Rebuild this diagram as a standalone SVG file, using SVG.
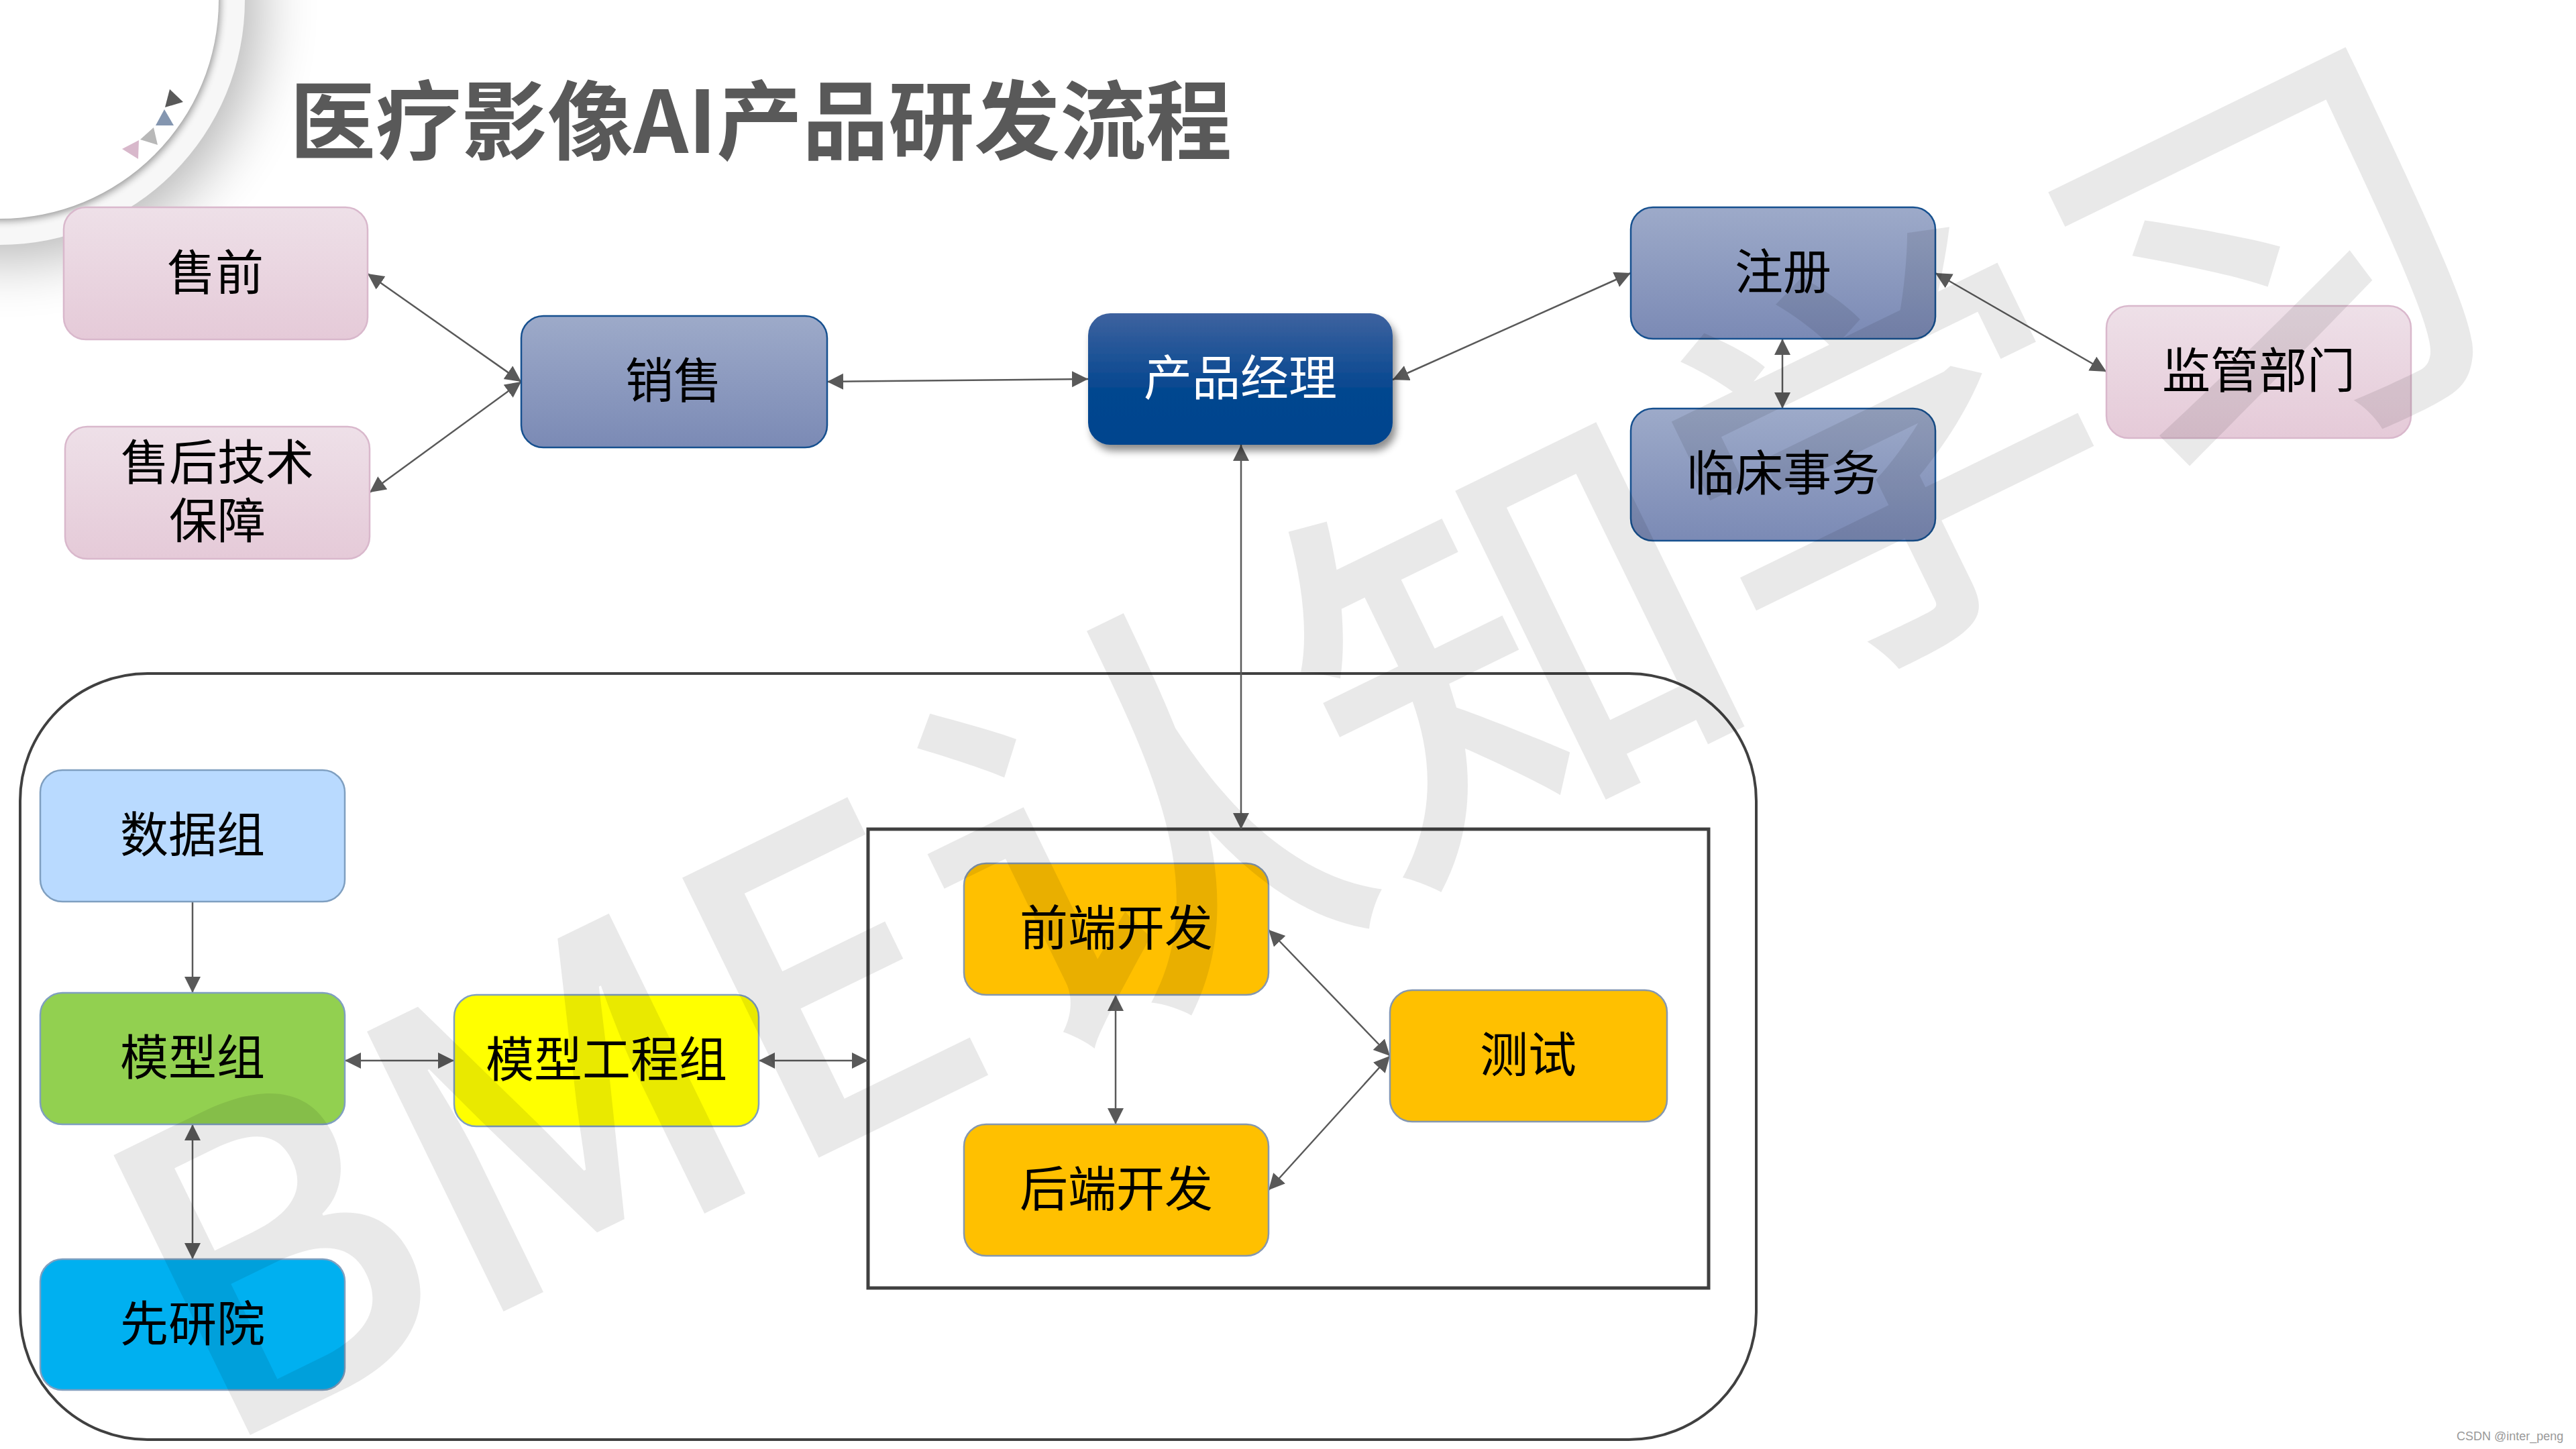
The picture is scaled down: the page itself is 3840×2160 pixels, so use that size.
<svg xmlns="http://www.w3.org/2000/svg" width="3840" height="2160" viewBox="0 0 3840 2160">
<style>
text{font-family:"Noto Sans CJK SC","Noto Sans",sans-serif}
.l{font-size:72px;fill:#000;text-anchor:middle}
.n{stroke-width:2.5}
.pink{fill:url(#gp);stroke:#d9b8cc}
.blue{fill:url(#gb);stroke:#16508f}
.org{fill:#ffc000;stroke:#8497b0}
.c{fill:none;stroke:#595959;stroke-width:2.5;marker-end:url(#a)}
.b{marker-start:url(#a)}
</style>
<defs>
<linearGradient id="gp" x1="0" y1="0" x2="0" y2="1"><stop offset="0" stop-color="#eee0e8"/><stop offset="1" stop-color="#e5cad8"/></linearGradient>
<linearGradient id="gb" x1="0" y1="0" x2="0" y2="1"><stop offset="0" stop-color="#9daac9"/><stop offset="1" stop-color="#7b8ab5"/></linearGradient>
<linearGradient id="gd" x1="0" y1="0" x2="0" y2="1"><stop offset="0" stop-color="#3e629f"/><stop offset=".6" stop-color="#03468f"/><stop offset="1" stop-color="#03448e"/></linearGradient>
<marker id="a" markerUnits="userSpaceOnUse" markerWidth="26" markerHeight="26" refX="24" refY="12" orient="auto-start-reverse"><path d="M0 0L24 12L0 24Z" fill="#595959"/></marker>
<filter id="s1" x="-30%" y="-30%" width="170%" height="170%"><feGaussianBlur stdDeviation="45"/></filter>
<filter id="s2" x="-10%" y="-10%" width="120%" height="120%"><feGaussianBlur stdDeviation="6"/></filter>
<filter id="s3" x="-10%" y="-10%" width="120%" height="130%"><feDropShadow dx="5" dy="9" stdDeviation="6" flood-color="#000" flood-opacity=".45"/></filter>
</defs>
<rect width="3840" height="2160" fill="#fff"/>
<g id="corner">
<circle cx="12" cy="12" r="372" fill="#000" opacity=".3" filter="url(#s1)"/>
<circle cx="0" cy="0" r="365" fill="#f7f7f7"/>
<circle cx="2" cy="3" r="326" fill="#000" opacity=".4" filter="url(#s2)"/>
<circle cx="0" cy="0" r="326" fill="#fff"/>
<polygon points="253,133 273,152 246,160" fill="#595959"/>
<polygon points="245,163 259,187 232,187" fill="#8496b0"/>
<polygon points="229,190 235,216 209,208" fill="#b8b8b8"/>
<polygon points="207,209 206,237 182,222" fill="#d8b8cb"/>
</g>
<text id="title" x="432" y="228" font-size="128" font-weight="700" fill="#595959">医疗影像AI产品研发流程</text>
<rect id="outer-frame" x="30" y="1004" width="2588" height="1142" rx="190" ry="190" fill="none" stroke="#404040" stroke-width="4"/>
<rect id="dev-frame" x="1294" y="1236" width="1253" height="684" fill="none" stroke="#404040" stroke-width="5"/>
<g id="connectors">
<path class="c b" d="M548 408L777 569"/>
<path class="c b" d="M551 734L777 569"/>
<path class="c b" d="M1233 569L1622 565"/>
<path class="c b" d="M2076 566L2431 407"/>
<path class="c b" d="M2657 505V609"/>
<path class="c b" d="M2885 407L3140 554"/>
<path class="c b" d="M1850 663V1236"/>
<path class="c" d="M287 1344V1480"/>
<path class="c b" d="M287 1676V1877"/>
<path class="c b" d="M514 1581H677"/>
<path class="c b" d="M1131 1581H1294"/>
<path class="c b" d="M1663 1483V1676"/>
<path class="c b" d="M1891 1386L2072 1574"/>
<path class="c b" d="M1891 1774L2072 1574"/>
</g>
<g id="n-shouqian"><rect class="n pink" x="95" y="309" width="453" height="197" rx="33"/><text class="l" x="321" y="432">售前</text></g>
<g id="n-shouhou"><rect class="n pink" x="97" y="636" width="454" height="197" rx="33"/><text class="l"><tspan x="324" y="715">售后技术</tspan><tspan x="324" y="802">保障</tspan></text></g>
<g id="n-xiaoshou"><rect class="n blue" x="777" y="471" width="456" height="196" rx="33"/><text class="l" x="1004" y="593">销售</text></g>
<g id="n-pm"><rect x="1622" y="467" width="454" height="196" rx="33" fill="url(#gd)" filter="url(#s3)"/><text class="l" x="1849" y="589" style="fill:#fff">产品经理</text></g>
<g id="n-zhuce"><rect class="n blue" x="2431" y="309" width="454" height="196" rx="33"/><text class="l" x="2658" y="431">注册</text></g>
<g id="n-linchuang"><rect class="n blue" x="2431" y="609" width="454" height="197" rx="33"/><text class="l" x="2658" y="731">临床事务</text></g>
<g id="n-jianguan"><rect class="n pink" x="3140" y="456" width="454" height="197" rx="33"/><text class="l" x="3367" y="578">监管部门</text></g>
<g id="n-shuju"><rect class="n" x="60" y="1148" width="454" height="196" rx="33" fill="#b9daff" stroke="#7f9fc0"/><text class="l" x="287" y="1270">数据组</text></g>
<g id="n-moxing"><rect class="n" x="60" y="1480" width="454" height="196" rx="33" fill="#92d050" stroke="#7f9fc0"/><text class="l" x="287" y="1602">模型组</text></g>
<g id="n-gongcheng"><rect class="n" x="677" y="1483" width="454" height="196" rx="33" fill="#ff0" stroke="#7f9fc0"/><text class="l" x="904" y="1605">模型工程组</text></g>
<g id="n-xianyan"><rect class="n" x="60" y="1877" width="454" height="195" rx="33" fill="#00b0f0" stroke="#7f9fc0"/><text class="l" x="287" y="1999">先研院</text></g>
<g id="n-qianduan"><rect class="n org" x="1437" y="1287" width="454" height="196" rx="33"/><text class="l" x="1664" y="1409">前端开发</text></g>
<g id="n-houduan"><rect class="n org" x="1437" y="1676" width="454" height="196" rx="33"/><text class="l" x="1664" y="1798">后端开发</text></g>
<g id="n-ceshi"><rect class="n org" x="2072" y="1476" width="413" height="196" rx="33"/><text class="l" x="2278" y="1598">测试</text></g>
<text id="watermark" transform="translate(318 2166) rotate(-26)" x="0" y="0" font-size="630" font-weight="500" fill="#000" fill-opacity=".086">BME认知学习</text>
<text id="credit" x="3662" y="2147" font-size="18" fill="#999" style="font-family:'Liberation Sans',sans-serif">CSDN @inter_peng</text>
</svg>
